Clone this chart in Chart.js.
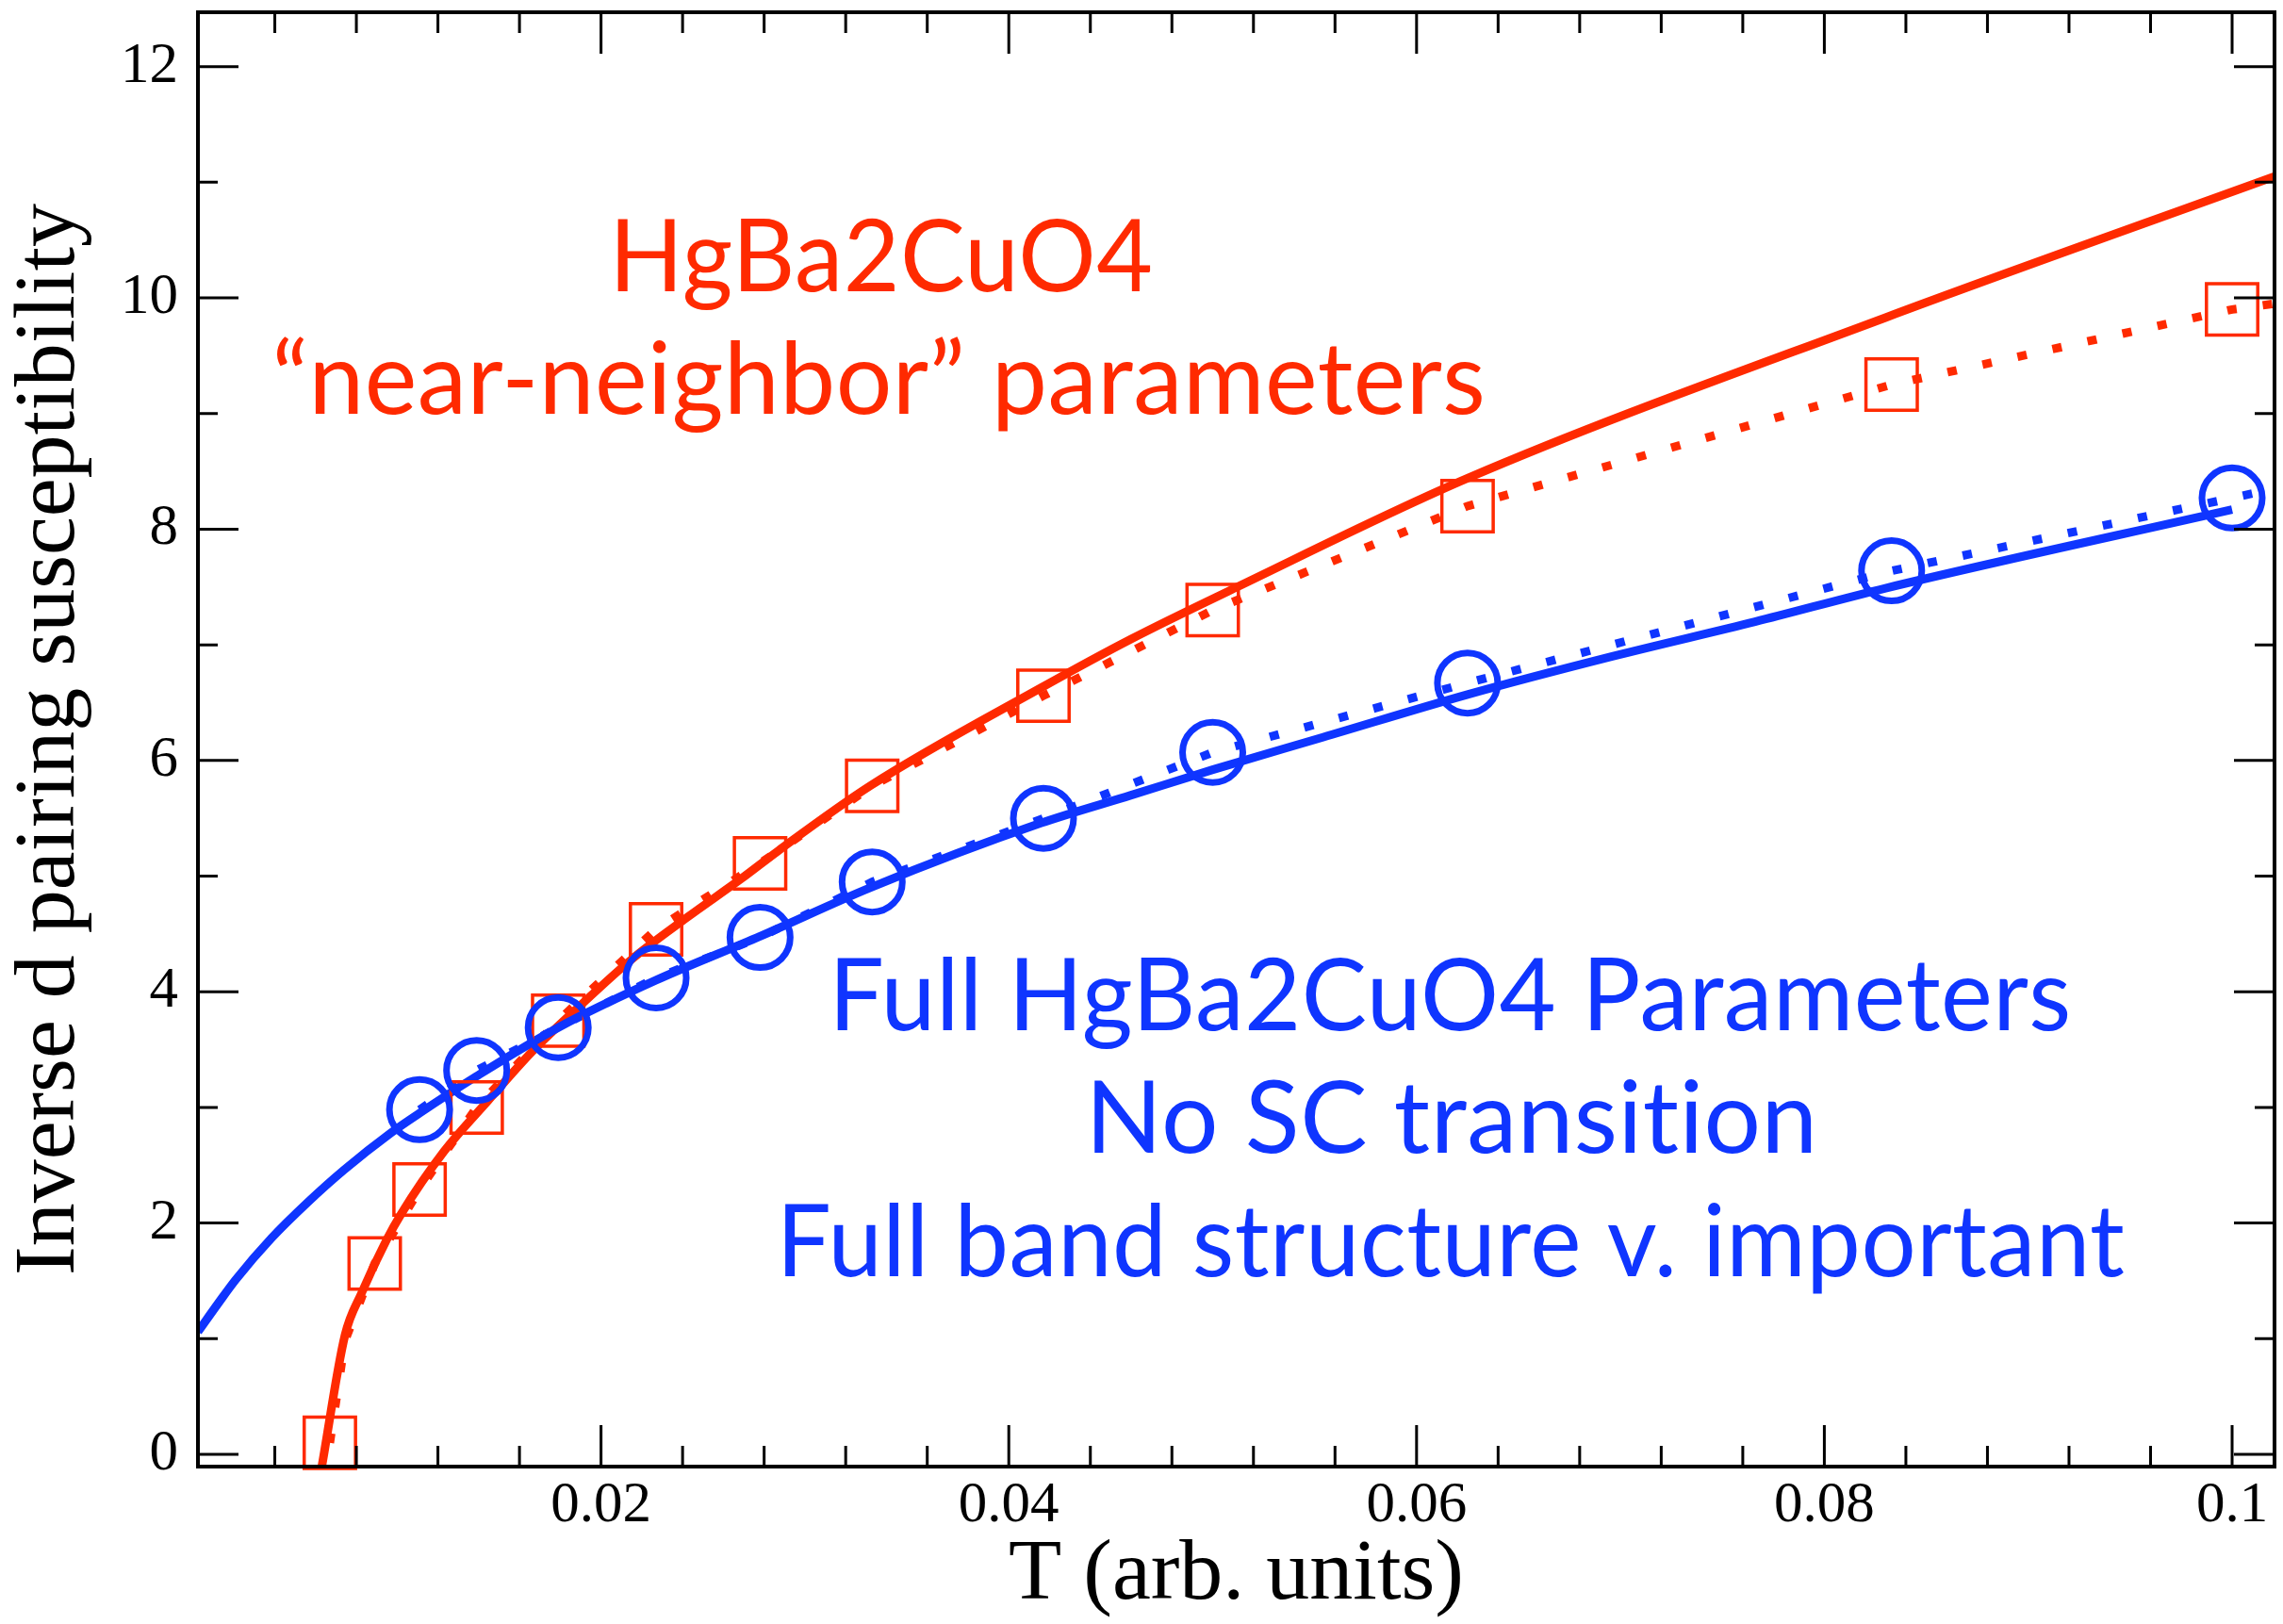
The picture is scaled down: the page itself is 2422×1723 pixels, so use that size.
<!DOCTYPE html>
<html><head><meta charset="utf-8">
<script src="https://cdn.jsdelivr.net/npm/chart.js@4.4.1/dist/chart.umd.min.js"></script>
<style>html,body{margin:0;padding:0;background:#fff;overflow:hidden}#wrap{width:2422px;height:1723px}</style>
</head><body><div id="wrap"><canvas id="c" width="2422" height="1723"></canvas></div>
<script>
// ---------- data ----------
const xTicks = [0.02, 0.04, 0.06, 0.08, 0.1];
const xTickLabels = ['0.02', '0.04', '0.06', '0.08', '0.1'];
const xMinorTicks = [0.004, 0.008, 0.012, 0.016, 0.024, 0.028, 0.032, 0.036, 0.044, 0.048, 0.052, 0.056, 0.064, 0.068, 0.072, 0.076, 0.084, 0.088, 0.092, 0.096];
const yTicks = [0, 2, 4, 6, 8, 10, 12];
const yTickLabels = ['0', '2', '4', '6', '8', '10', '12'];
const yMinorTicks = [1, 3, 5, 7, 9, 11];

// red solid curve ("near-neighbor" parameters)
const redFitT = [0.00631, 0.00744, 0.00827, 0.0095, 0.0102, 0.0123, 0.01447, 0.0166, 0.0191, 0.0215, 0.0242, 0.0269, 0.0287, 0.0332, 0.0416, 0.046, 0.0512, 0.0625, 0.083, 0.10208];
const redFitV = [-0.1, 1.03, 1.40, 1.86, 2.08, 2.62, 3.06, 3.48, 3.90, 4.28, 4.64, 4.98, 5.22, 5.78, 6.63, 7.05, 7.50, 8.44, 9.83, 11.05];
// red dotted line
const redDotT = [0.0067, 0.00744, 0.0089, 0.0111, 0.0139, 0.0179, 0.0227, 0.0278, 0.0333, 0.0417, 0.05, 0.0625, 0.0833, 0.1, 0.10208];
const redDotV = [0.10, 0.98, 1.65, 2.29, 3.00, 3.75, 4.54, 5.11, 5.78, 6.56, 7.30, 8.20, 9.25, 9.90, 9.95];
// red squares
const redSqT = [0.0067, 0.0089, 0.0111, 0.0139, 0.0179, 0.0227, 0.0278, 0.0333, 0.0417, 0.05, 0.0625, 0.0833, 0.1];
const redSqV = [0.10, 1.65, 2.29, 3.00, 3.75, 4.54, 5.11, 5.78, 6.56, 7.30, 8.20, 9.25, 9.90];

// blue solid curve (full parameters)
const blueFitT = [0.00023, 0.0012, 0.00208, 0.00384, 0.00562, 0.0074, 0.0097, 0.0111, 0.0139, 0.0179, 0.0227, 0.0278, 0.0332, 0.0416, 0.046, 0.05, 0.0554, 0.0625, 0.0696, 0.0766, 0.083, 0.1];
const blueFitV = [1.06, 1.30, 1.51, 1.87, 2.18, 2.46, 2.78, 2.95, 3.27, 3.69, 4.10, 4.48, 4.90, 5.46, 5.70, 5.92, 6.20, 6.57, 6.90, 7.20, 7.49, 8.17];
// blue dotted line
const blueDotT = [0.0111, 0.0139, 0.0179, 0.0227, 0.0278, 0.0333, 0.0417, 0.05, 0.0625, 0.0833, 0.1, 0.10208];
const blueDotV = [2.98, 3.32, 3.69, 4.12, 4.47, 4.95, 5.50, 6.07, 6.67, 7.64, 8.27, 8.35];
// blue circles
const blueCircT = [0.0111, 0.0139, 0.0179, 0.0227, 0.0278, 0.0333, 0.0417, 0.05, 0.0625, 0.0833, 0.1];
const blueCircV = [2.98, 3.32, 3.69, 4.12, 4.47, 4.95, 5.50, 6.07, 6.67, 7.64, 8.27];

const xRange = [0.00023, 0.10208];
const yRange = [-0.106, 12.47];

// ---------- styling ----------
const RED = '#ff2a00';
const BLUE = '#0f35ff';
const SERIF = "'Liberation Serif', 'Times New Roman', Times, serif";
const SANS = "Lato, 'Open Sans', sans-serif";

const toXY = (xs, ys) => xs.map((x, i) => ({x: x, y: ys[i]}));

const annotations = [
  {text: 'HgBa2CuO4', color: RED, cx: 938, base: 309, w: 566},
  {text: '\u201Cnear-neighbor\u201D parameters', color: RED, cx: 933, base: 439, w: 1279},
  {text: 'Full HgBa2CuO4 Parameters', color: BLUE, cx: 1541, base: 1093, w: 1306},
  {text: 'No SC transition', color: BLUE, cx: 1541, base: 1223, w: 761},
  {text: 'Full band structure v. important', color: BLUE, cx: 1543, base: 1354, w: 1421}
];

const framePlugin = {
  id: 'frameTicks',
  afterDatasetsDraw(chart) {
    const {ctx, chartArea: a, scales: {x, y}} = chart;
    ctx.save();
    ctx.strokeStyle = '#000';
    ctx.lineCap = 'butt';
    ctx.lineWidth = 3;
    ctx.beginPath();
    const vt = (v, len) => {
      const p = x.getPixelForValue(v);
      ctx.moveTo(p, a.bottom); ctx.lineTo(p, a.bottom - len);
      ctx.moveTo(p, a.top); ctx.lineTo(p, a.top + len);
    };
    const ht = (v, len) => {
      const p = y.getPixelForValue(v);
      ctx.moveTo(a.left, p); ctx.lineTo(a.left + len, p);
      ctx.moveTo(a.right, p); ctx.lineTo(a.right - len, p);
    };
    xTicks.forEach(v => vt(v, 44));
    xMinorTicks.forEach(v => vt(v, 22));
    yTicks.forEach(v => ht(v, 43));
    yMinorTicks.forEach(v => ht(v, 21));
    ctx.stroke();
    ctx.lineWidth = 4;
    ctx.strokeRect(a.left, a.top, a.right - a.left, a.bottom - a.top);
    ctx.restore();
  },
  afterDraw(chart) {
    const ctx = chart.ctx;
    ctx.save();
    ctx.font = '107px ' + SANS;
    if ('letterSpacing' in ctx) ctx.letterSpacing = '0.5px';
    ctx.textAlign = 'left';
    ctx.textBaseline = 'alphabetic';
    annotations.forEach(n => {
      const m = ctx.measureText(n.text);
      const ink = m.actualBoundingBoxLeft + m.actualBoundingBoxRight;
      const sx = n.w / ink;
      ctx.save();
      ctx.translate(n.cx, n.base);
      ctx.scale(sx, 1);
      ctx.fillStyle = n.color;
      ctx.fillText(n.text, m.actualBoundingBoxLeft - ink / 2, 0);
      ctx.restore();
    });
    ctx.restore();
  }
};

function makeChart() {
  new Chart(document.getElementById('c'), {
    type: 'scatter',
    data: {
      datasets: [
        {label: 'red squares', data: toXY(redSqT, redSqV), showLine: false, pointStyle: 'rect', pointRadius: 38.5,
         pointBorderWidth: 3.5, pointBorderColor: RED, pointBackgroundColor: 'rgba(0,0,0,0)', clip: false, order: 1},
        {label: 'blue circles', data: toXY(blueCircT, blueCircV), showLine: false, pointStyle: 'circle', pointRadius: 32,
         pointBorderWidth: 7, pointBorderColor: BLUE, pointBackgroundColor: 'rgba(0,0,0,0)', clip: false, order: 0},
        {label: 'blue fit', data: toXY(blueFitT, blueFitV), showLine: true, borderColor: BLUE, borderWidth: 9,
         pointRadius: 0, cubicInterpolationMode: 'monotone', clip: 0, order: 2},
        {label: 'blue dotted', data: toXY(blueDotT, blueDotV), showLine: true, borderColor: BLUE, borderWidth: 9,
         borderDash: [10, 28], borderCapStyle: 'butt', pointRadius: 0, tension: 0, clip: 0, order: 3},
        {label: 'red fit', data: toXY(redFitT, redFitV), showLine: true, borderColor: RED, borderWidth: 9,
         pointRadius: 0, cubicInterpolationMode: 'monotone', clip: 0, order: 4},
        {label: 'red dotted', data: toXY(redDotT, redDotV), showLine: true, borderColor: RED, borderWidth: 9,
         borderDash: [10, 28], borderCapStyle: 'butt', pointRadius: 0, tension: 0, clip: 0, order: 5}
      ]
    },
    options: {
      responsive: false,
      devicePixelRatio: 1,
      animation: false,
      events: [],
      layout: {autoPadding: false, padding: {left: 0, top: 13, right: 9, bottom: 0}},
      plugins: {legend: {display: false}, tooltip: {enabled: false}},
      scales: {
        x: {
          type: 'linear', position: 'bottom', min: xRange[0], max: xRange[1],
          grid: {display: false, drawTicks: false}, border: {display: false},
          afterBuildTicks: s => { s.ticks = xTicks.map(v => ({value: v})); },
          afterFit: s => { s.height = 167; s.paddingLeft = 0; s.paddingRight = 0; },
          ticks: {autoSkip: false, maxRotation: 0, minRotation: 0, padding: 5, color: '#000',
                  font: {family: SERIF, size: 61, lineHeight: 1.2},
                  callback: (v, i) => xTickLabels[i]},
          title: {display: true, text: 'T (arb. units)', color: '#000',
                  font: {family: SERIF, size: 92, lineHeight: 1}, padding: {top: 0, bottom: 5}}
        },
        y: {
          type: 'linear', position: 'left', min: yRange[0], max: yRange[1],
          grid: {display: false, drawTicks: false}, border: {display: false},
          afterBuildTicks: s => { s.ticks = yTicks.map(v => ({value: v})); },
          afterFit: s => { s.width = 210; s.paddingTop = 0; s.paddingBottom = 0; },
          ticks: {autoSkip: false, padding: 21, color: '#000',
                  font: {family: SERIF, size: 61, lineHeight: 1.2},
                  callback: (v, i) => yTickLabels[i]},
          title: {display: true, text: 'Inverse d pairing susceptibility', color: '#000',
                  font: {family: SERIF, size: 92, lineHeight: 1}, padding: {top: 8, bottom: 0}}
        }
      }
    },
    plugins: [framePlugin]
  });
}

Promise.all([
  document.fonts.load('107px Lato'),
  document.fonts.load('61px "Liberation Serif"')
]).catch(() => {}).then(makeChart);
</script>
</body></html>
